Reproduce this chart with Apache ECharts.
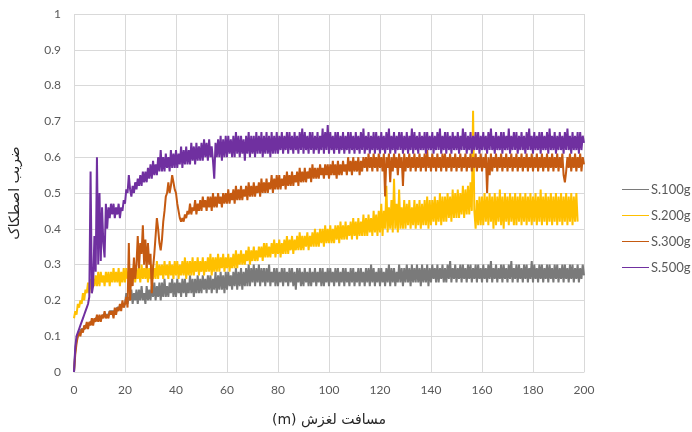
<!DOCTYPE html>
<html>
<head>
<meta charset="utf-8">
<script src="https://cdn.jsdelivr.net/npm/echarts@6/dist/echarts.min.js"></script>
<style>
html,body{margin:0;padding:0;background:#fff;}
#chart{width:692px;height:432px;}
</style>
</head>
<body>
<div id="chart"></div>
<script>
// Sliding distance (m): sampling grid every 0.5 m from 0 to 200
const distance = Array.from({length: 401}, (_, i) => i / 2);

const seriesNames = ['S.100g', 'S.200g', 'S.300g', 'S.500g'];

// each row = 5 m (10 samples)
const s100 = [
0, 0.06, 0.09, 0.1, 0.11, 0.11, 0.12, 0.12, 0.12, 0.13,
0.13, 0.13, 0.13, 0.14, 0.14, 0.14, 0.14, 0.15, 0.15, 0.15,
0.15, 0.15, 0.15, 0.16, 0.16, 0.16, 0.16, 0.16, 0.17, 0.17,
0.17, 0.17, 0.17, 0.17, 0.18, 0.18, 0.18, 0.18, 0.19, 0.19,
0.19, 0.22, 0.19, 0.21, 0.2, 0.23, 0.19, 0.22, 0.2, 0.23,
0.19, 0.23, 0.2, 0.24, 0.2, 0.22, 0.19, 0.24, 0.2, 0.23,
0.2, 0.24, 0.21, 0.25, 0.2, 0.24, 0.21, 0.25, 0.2, 0.25,
0.21, 0.26, 0.21, 0.24, 0.21, 0.25, 0.22, 0.26, 0.21, 0.25,
0.21, 0.26, 0.22, 0.25, 0.21, 0.26, 0.22, 0.26, 0.21, 0.25,
0.22, 0.27, 0.22, 0.26, 0.21, 0.26, 0.22, 0.27, 0.22, 0.26,
0.22, 0.27, 0.23, 0.26, 0.22, 0.27, 0.23, 0.27, 0.22, 0.26,
0.23, 0.28, 0.22, 0.27, 0.23, 0.28, 0.23, 0.27, 0.22, 0.28,
0.23, 0.28, 0.24, 0.27, 0.23, 0.28, 0.24, 0.29, 0.23, 0.28,
0.24, 0.29, 0.23, 0.28, 0.24, 0.29, 0.24, 0.3, 0.24, 0.29,
0.25, 0.3, 0.24, 0.29, 0.25, 0.3, 0.24, 0.29, 0.25, 0.29,
0.24, 0.29, 0.25, 0.3, 0.24, 0.28, 0.25, 0.29, 0.24, 0.29,
0.24, 0.28, 0.25, 0.29, 0.24, 0.29, 0.25, 0.28, 0.24, 0.29,
0.25, 0.29, 0.24, 0.28, 0.23, 0.29, 0.25, 0.29, 0.24, 0.28,
0.24, 0.29, 0.25, 0.28, 0.24, 0.29, 0.24, 0.28, 0.25, 0.29,
0.24, 0.28, 0.25, 0.29, 0.24, 0.29, 0.24, 0.28, 0.25, 0.29,
0.24, 0.29, 0.25, 0.28, 0.24, 0.29, 0.25, 0.29, 0.24, 0.28,
0.25, 0.29, 0.24, 0.29, 0.25, 0.28, 0.24, 0.29, 0.25, 0.29,
0.24, 0.28, 0.25, 0.29, 0.24, 0.29, 0.25, 0.28, 0.24, 0.29,
0.25, 0.29, 0.24, 0.3, 0.25, 0.29, 0.24, 0.28, 0.25, 0.29,
0.24, 0.29, 0.25, 0.28, 0.24, 0.29, 0.25, 0.3, 0.24, 0.29,
0.25, 0.29, 0.24, 0.28, 0.25, 0.3, 0.25, 0.29, 0.24, 0.29,
0.25, 0.3, 0.25, 0.29, 0.24, 0.3, 0.25, 0.29, 0.25, 0.3,
0.25, 0.29, 0.24, 0.3, 0.25, 0.29, 0.25, 0.3, 0.24, 0.29,
0.25, 0.3, 0.26, 0.29, 0.25, 0.3, 0.25, 0.29, 0.26, 0.3,
0.25, 0.29, 0.25, 0.3, 0.26, 0.31, 0.25, 0.29, 0.26, 0.3,
0.25, 0.29, 0.26, 0.3, 0.25, 0.3, 0.26, 0.29, 0.25, 0.3,
0.26, 0.3, 0.25, 0.29, 0.26, 0.3, 0.25, 0.3, 0.26, 0.29,
0.25, 0.3, 0.26, 0.29, 0.25, 0.3, 0.26, 0.31, 0.25, 0.29,
0.26, 0.3, 0.25, 0.29, 0.26, 0.3, 0.25, 0.3, 0.26, 0.29,
0.25, 0.3, 0.26, 0.31, 0.25, 0.29, 0.26, 0.3, 0.25, 0.3,
0.26, 0.29, 0.25, 0.3, 0.26, 0.3, 0.25, 0.29, 0.26, 0.31,
0.25, 0.3, 0.26, 0.29, 0.25, 0.3, 0.26, 0.3, 0.25, 0.29,
0.26, 0.3, 0.25, 0.3, 0.26, 0.29, 0.25, 0.3, 0.26, 0.3,
0.25, 0.29, 0.26, 0.3, 0.25, 0.3, 0.26, 0.29, 0.25, 0.3,
0.26, 0.3, 0.25, 0.29, 0.26, 0.3, 0.25, 0.29, 0.26, 0.3,
0.27
];

const s200 = [
0.15, 0.17, 0.16, 0.19, 0.18, 0.2, 0.19, 0.22, 0.2, 0.23,
0.22, 0.25, 0.22, 0.26, 0.23, 0.26, 0.24, 0.27, 0.24, 0.28,
0.24, 0.28, 0.25, 0.27, 0.24, 0.28, 0.25, 0.28, 0.24, 0.28,
0.25, 0.29, 0.25, 0.28, 0.25, 0.29, 0.24, 0.28, 0.25, 0.29,
0.25, 0.29, 0.26, 0.28, 0.25, 0.29, 0.26, 0.3, 0.25, 0.29,
0.26, 0.29, 0.25, 0.3, 0.26, 0.29, 0.26, 0.3, 0.25, 0.29,
0.26, 0.3, 0.26, 0.29, 0.26, 0.31, 0.26, 0.3, 0.27, 0.3,
0.26, 0.31, 0.27, 0.3, 0.26, 0.31, 0.27, 0.3, 0.26, 0.31,
0.27, 0.31, 0.26, 0.3, 0.27, 0.31, 0.27, 0.32, 0.26, 0.31,
0.27, 0.31, 0.27, 0.32, 0.27, 0.31, 0.28, 0.32, 0.27, 0.31,
0.28, 0.32, 0.27, 0.31, 0.28, 0.32, 0.28, 0.33, 0.27, 0.32,
0.28, 0.32, 0.28, 0.33, 0.28, 0.32, 0.29, 0.33, 0.28, 0.32,
0.29, 0.33, 0.28, 0.32, 0.29, 0.33, 0.29, 0.34, 0.29, 0.33,
0.3, 0.34, 0.3, 0.33, 0.3, 0.34, 0.31, 0.35, 0.3, 0.34,
0.31, 0.35, 0.31, 0.34, 0.31, 0.35, 0.32, 0.35, 0.31, 0.36,
0.32, 0.36, 0.32, 0.35, 0.32, 0.36, 0.33, 0.37, 0.32, 0.36,
0.33, 0.37, 0.32, 0.36, 0.33, 0.37, 0.33, 0.38, 0.33, 0.37,
0.34, 0.38, 0.33, 0.37, 0.34, 0.38, 0.34, 0.39, 0.34, 0.38,
0.34, 0.38, 0.35, 0.39, 0.34, 0.38, 0.35, 0.39, 0.35, 0.4,
0.35, 0.39, 0.35, 0.4, 0.36, 0.4, 0.35, 0.41, 0.36, 0.4,
0.36, 0.41, 0.36, 0.4, 0.36, 0.41, 0.37, 0.41, 0.36, 0.42,
0.37, 0.41, 0.37, 0.42, 0.37, 0.41, 0.38, 0.42, 0.37, 0.43,
0.38, 0.42, 0.37, 0.43, 0.38, 0.42, 0.38, 0.44, 0.38, 0.43,
0.38, 0.44, 0.39, 0.43, 0.38, 0.45, 0.39, 0.44, 0.38, 0.45,
0.39, 0.47, 0.38, 0.45, 0.4, 0.52, 0.39, 0.46, 0.4, 0.48,
0.39, 0.54, 0.4, 0.47, 0.39, 0.51, 0.4, 0.46, 0.4, 0.48,
0.4, 0.47, 0.41, 0.48, 0.4, 0.46, 0.41, 0.48, 0.4, 0.47,
0.41, 0.48, 0.4, 0.47, 0.41, 0.48, 0.41, 0.49, 0.4, 0.48,
0.41, 0.48, 0.42, 0.49, 0.41, 0.48, 0.42, 0.5, 0.41, 0.49,
0.42, 0.49, 0.42, 0.5, 0.43, 0.49, 0.42, 0.51, 0.43, 0.5,
0.43, 0.51, 0.43, 0.5, 0.44, 0.52, 0.43, 0.51, 0.44, 0.52,
0.44, 0.53, 0.45, 0.73, 0.45, 0.4, 0.48, 0.41, 0.49, 0.41,
0.49, 0.41, 0.5, 0.42, 0.49, 0.41, 0.5, 0.42, 0.49, 0.4,
0.5, 0.41, 0.49, 0.42, 0.51, 0.41, 0.49, 0.4, 0.5, 0.42,
0.49, 0.41, 0.5, 0.42, 0.49, 0.41, 0.5, 0.41, 0.49, 0.42,
0.5, 0.41, 0.49, 0.42, 0.5, 0.41, 0.49, 0.42, 0.5, 0.41,
0.49, 0.42, 0.5, 0.41, 0.49, 0.42, 0.51, 0.41, 0.49, 0.42,
0.5, 0.41, 0.49, 0.42, 0.5, 0.41, 0.49, 0.42, 0.5, 0.41,
0.49, 0.42, 0.5, 0.41, 0.49, 0.42, 0.5, 0.41, 0.49, 0.42,
0.5, 0.41, 0.49, 0.42, 0.5, 0.42, null, null, null, null,
null
];

const s300 = [
0, 0.05, 0.08, 0.1, 0.11, 0.1, 0.12, 0.11, 0.13, 0.12,
0.14, 0.12, 0.14, 0.13, 0.15, 0.13, 0.15, 0.14, 0.16, 0.14,
0.16, 0.14, 0.16, 0.15, 0.17, 0.15, 0.16, 0.15, 0.17, 0.16,
0.17, 0.15, 0.18, 0.16, 0.18, 0.17, 0.19, 0.17, 0.2, 0.18,
0.19, 0.21, 0.18, 0.36, 0.2, 0.29, 0.24, 0.32, 0.26, 0.3,
0.38, 0.29, 0.36, 0.33, 0.41, 0.3, 0.37, 0.29, 0.36, 0.3,
0.33, 0.22, 0.29, 0.33, 0.38, 0.43, 0.4, 0.36, 0.34, 0.37,
0.42, 0.45, 0.49, 0.5, 0.53, 0.5, 0.52, 0.55, 0.53, 0.51,
0.5, 0.47, 0.45, 0.43, 0.42, 0.43, 0.42, 0.44, 0.43, 0.45,
0.44, 0.47, 0.44, 0.46, 0.45, 0.48, 0.44, 0.47, 0.45, 0.48,
0.45, 0.49, 0.46, 0.48, 0.45, 0.49, 0.46, 0.49, 0.45, 0.5,
0.46, 0.49, 0.46, 0.5, 0.47, 0.49, 0.46, 0.5, 0.47, 0.5,
0.47, 0.51, 0.47, 0.5, 0.48, 0.51, 0.47, 0.52, 0.48, 0.51,
0.48, 0.52, 0.48, 0.51, 0.49, 0.52, 0.48, 0.53, 0.49, 0.52,
0.49, 0.53, 0.49, 0.52, 0.5, 0.53, 0.49, 0.54, 0.5, 0.53,
0.5, 0.54, 0.5, 0.53, 0.51, 0.55, 0.5, 0.54, 0.51, 0.55,
0.51, 0.55, 0.51, 0.54, 0.52, 0.55, 0.51, 0.56, 0.52, 0.55,
0.52, 0.56, 0.52, 0.55, 0.53, 0.56, 0.52, 0.57, 0.53, 0.56,
0.53, 0.57, 0.53, 0.56, 0.54, 0.57, 0.53, 0.58, 0.54, 0.57,
0.54, 0.57, 0.54, 0.58, 0.55, 0.57, 0.54, 0.58, 0.55, 0.58,
0.54, 0.58, 0.55, 0.59, 0.55, 0.58, 0.54, 0.59, 0.55, 0.58,
0.55, 0.59, 0.56, 0.58, 0.55, 0.6, 0.56, 0.59, 0.55, 0.6,
0.56, 0.59, 0.56, 0.6, 0.55, 0.59, 0.56, 0.6, 0.57, 0.6,
0.56, 0.61, 0.57, 0.6, 0.56, 0.61, 0.57, 0.6, 0.56, 0.61,
0.57, 0.6, 0.56, 0.61, 0.49, 0.6, 0.57, 0.61, 0.53, 0.6,
0.56, 0.61, 0.57, 0.6, 0.55, 0.61, 0.57, 0.6, 0.52, 0.61,
0.56, 0.6, 0.57, 0.61, 0.56, 0.6, 0.57, 0.61, 0.56, 0.6,
0.57, 0.61, 0.56, 0.6, 0.57, 0.61, 0.56, 0.62, 0.57, 0.6,
0.56, 0.61, 0.57, 0.6, 0.56, 0.61, 0.57, 0.6, 0.56, 0.61,
0.57, 0.61, 0.56, 0.6, 0.57, 0.61, 0.56, 0.6, 0.57, 0.61,
0.56, 0.6, 0.57, 0.61, 0.56, 0.6, 0.57, 0.61, 0.56, 0.6,
0.57, 0.61, 0.56, 0.6, 0.57, 0.61, 0.56, 0.6, 0.57, 0.61,
0.56, 0.6, 0.57, 0.61, 0.5, 0.6, 0.55, 0.61, 0.56, 0.6,
0.57, 0.61, 0.56, 0.6, 0.57, 0.61, 0.56, 0.6, 0.57, 0.61,
0.56, 0.6, 0.57, 0.61, 0.56, 0.6, 0.57, 0.61, 0.56, 0.6,
0.57, 0.61, 0.56, 0.6, 0.57, 0.61, 0.56, 0.6, 0.57, 0.61,
0.56, 0.6, 0.57, 0.61, 0.56, 0.6, 0.57, 0.61, 0.56, 0.6,
0.57, 0.61, 0.56, 0.6, 0.57, 0.61, 0.56, 0.6, 0.57, 0.61,
0.56, 0.6, 0.57, 0.61, 0.55, 0.53, 0.56, 0.6, 0.57, 0.61,
0.56, 0.6, 0.57, 0.61, 0.56, 0.6, 0.57, 0.61, 0.56, 0.6,
0.58
];

const s500 = [
0, 0.07, 0.1, 0.11, 0.12, 0.13, 0.14, 0.15, 0.16, 0.17,
0.18, 0.19, 0.21, 0.56, 0.22, 0.24, 0.38, 0.28, 0.6, 0.3,
0.5, 0.31, 0.46, 0.36, 0.32, 0.47, 0.4, 0.46, 0.43, 0.47,
0.44, 0.47, 0.43, 0.46, 0.44, 0.47, 0.43, 0.46, 0.45, 0.48,
0.47, 0.51, 0.5, 0.55, 0.51, 0.49, 0.52, 0.5, 0.53, 0.51,
0.54, 0.52, 0.55, 0.52, 0.56, 0.53, 0.56, 0.53, 0.57, 0.54,
0.58, 0.54, 0.59, 0.55, 0.58, 0.55, 0.6, 0.56, 0.62, 0.56,
0.6, 0.56, 0.61, 0.57, 0.6, 0.56, 0.62, 0.57, 0.61, 0.57,
0.62, 0.57, 0.61, 0.58, 0.63, 0.57, 0.62, 0.58, 0.63, 0.58,
0.62, 0.58, 0.64, 0.59, 0.63, 0.58, 0.64, 0.59, 0.63, 0.59,
0.64, 0.59, 0.65, 0.6, 0.64, 0.59, 0.65, 0.6, 0.63, 0.59,
0.54, 0.64, 0.6, 0.65, 0.6, 0.66, 0.59, 0.65, 0.6, 0.66,
0.6, 0.66, 0.61, 0.65, 0.6, 0.66, 0.6, 0.67, 0.61, 0.66,
0.6, 0.66, 0.61, 0.65, 0.59, 0.66, 0.61, 0.67, 0.6, 0.66,
0.61, 0.66, 0.6, 0.67, 0.61, 0.66, 0.61, 0.67, 0.6, 0.66,
0.61, 0.67, 0.61, 0.66, 0.6, 0.67, 0.61, 0.66, 0.61, 0.67,
0.61, 0.66, 0.62, 0.67, 0.61, 0.66, 0.62, 0.67, 0.61, 0.67,
0.62, 0.66, 0.61, 0.67, 0.62, 0.66, 0.61, 0.67, 0.62, 0.68,
0.61, 0.67, 0.62, 0.66, 0.61, 0.67, 0.62, 0.67, 0.61, 0.66,
0.62, 0.67, 0.61, 0.66, 0.62, 0.68, 0.61, 0.67, 0.62, 0.69,
0.61, 0.67, 0.62, 0.66, 0.61, 0.67, 0.62, 0.67, 0.61, 0.66,
0.62, 0.67, 0.61, 0.66, 0.62, 0.67, 0.61, 0.67, 0.62, 0.66,
0.61, 0.67, 0.62, 0.66, 0.61, 0.67, 0.62, 0.68, 0.61, 0.66,
0.62, 0.67, 0.61, 0.66, 0.62, 0.67, 0.61, 0.67, 0.62, 0.66,
0.61, 0.67, 0.62, 0.66, 0.61, 0.67, 0.62, 0.68, 0.61, 0.66,
0.62, 0.67, 0.61, 0.66, 0.62, 0.67, 0.62, 0.67, 0.61, 0.66,
0.62, 0.67, 0.61, 0.66, 0.62, 0.68, 0.61, 0.67, 0.62, 0.66,
0.61, 0.67, 0.62, 0.66, 0.62, 0.67, 0.61, 0.67, 0.62, 0.66,
0.62, 0.67, 0.61, 0.66, 0.62, 0.67, 0.62, 0.68, 0.61, 0.66,
0.62, 0.67, 0.61, 0.67, 0.62, 0.66, 0.61, 0.67, 0.62, 0.66,
0.62, 0.67, 0.61, 0.66, 0.62, 0.68, 0.62, 0.67, 0.61, 0.66,
0.62, 0.67, 0.61, 0.66, 0.62, 0.67, 0.62, 0.67, 0.61, 0.66,
0.62, 0.67, 0.62, 0.66, 0.61, 0.67, 0.62, 0.68, 0.62, 0.66,
0.61, 0.67, 0.62, 0.66, 0.62, 0.67, 0.61, 0.67, 0.62, 0.66,
0.62, 0.68, 0.61, 0.66, 0.62, 0.67, 0.62, 0.67, 0.61, 0.66,
0.62, 0.67, 0.62, 0.66, 0.61, 0.67, 0.62, 0.68, 0.62, 0.66,
0.61, 0.67, 0.62, 0.66, 0.62, 0.67, 0.61, 0.67, 0.62, 0.66,
0.62, 0.67, 0.61, 0.68, 0.62, 0.66, 0.62, 0.67, 0.61, 0.66,
0.62, 0.67, 0.62, 0.66, 0.61, 0.67, 0.62, 0.68, 0.62, 0.66,
0.61, 0.67, 0.62, 0.66, 0.62, 0.67, 0.61, 0.67, 0.62, 0.66,
0.64
];

const xTicks = [0, 20, 40, 60, 80, 100, 120, 140, 160, 180, 200];
const yTicks = [0, 0.1, 0.2, 0.3, 0.4, 0.5, 0.6, 0.7, 0.8, 0.9, 1];

const xTitle = '\u202Bمسافت لغزش (m)\u202C';
const yTitle = 'ضریب اصطکاک';

const colors = ['#7a7a7a', '#ffc000', '#c55a11', '#7030a0'];
const allValues = [s100, s200, s300, s500];

const pair = (vals) => distance.map((d, i) => [d, vals[i] === undefined ? null : vals[i]]);

const chart = echarts.init(document.getElementById('chart'), null, {renderer: 'canvas'});
chart.setOption({
  animation: false,
  backgroundColor: '#ffffff',
  color: colors,
  textStyle: {fontFamily: 'Lato, "DejaVu Sans", sans-serif'},
  grid: {left: 72, right: 108, top: 14, bottom: 58, containLabel: false},
  legend: {
    orient: 'vertical',
    left: 617,
    top: 178,
    itemWidth: 27,
    itemHeight: 14,
    itemGap: 13,
    icon: 'path://M0,6 L27,6 L27,7 L0,7 Z',
    textStyle: {color: '#595959', fontSize: 13, fontFamily: 'Lato, sans-serif', padding: [0, 0, 0, -3]},
    data: seriesNames
  },
  xAxis: {
    type: 'value',
    min: xTicks[0],
    max: xTicks[xTicks.length - 1],
    interval: 20,
    name: xTitle,
    nameLocation: 'middle',
    nameGap: 41,
    nameTextStyle: {color: '#262626', fontSize: 14, fontFamily: '"DejaVu Sans", sans-serif'},
    axisLine: {show: true, lineStyle: {color: '#d9d9d9'}},
    axisTick: {show: false},
    axisLabel: {color: '#595959', fontSize: 12, margin: 12},
    splitLine: {show: true, lineStyle: {color: '#d9d9d9'}}
  },
  yAxis: {
    type: 'value',
    min: yTicks[0],
    max: yTicks[yTicks.length - 1],
    interval: 0.1,
    name: yTitle,
    nameLocation: 'middle',
    nameGap: 52,
    nameRotate: 90,
    nameTextStyle: {color: '#262626', fontSize: 14, fontFamily: '"DejaVu Sans", sans-serif'},
    axisLine: {show: false},
    axisTick: {show: false},
    axisLabel: {color: '#595959', fontSize: 12, margin: 13},
    splitLine: {show: true, lineStyle: {color: '#d9d9d9'}}
  },
  series: seriesNames.map((name, k) => ({
    name: name,
    type: 'line',
    symbol: 'none',
    connectNulls: false,
    data: pair(allValues[k]),
    lineStyle: {width: 2, color: colors[k], join: 'bevel'},
    itemStyle: {color: colors[k]},
    emphasis: {disabled: true}
  }))
});
</script>
</body>
</html>
